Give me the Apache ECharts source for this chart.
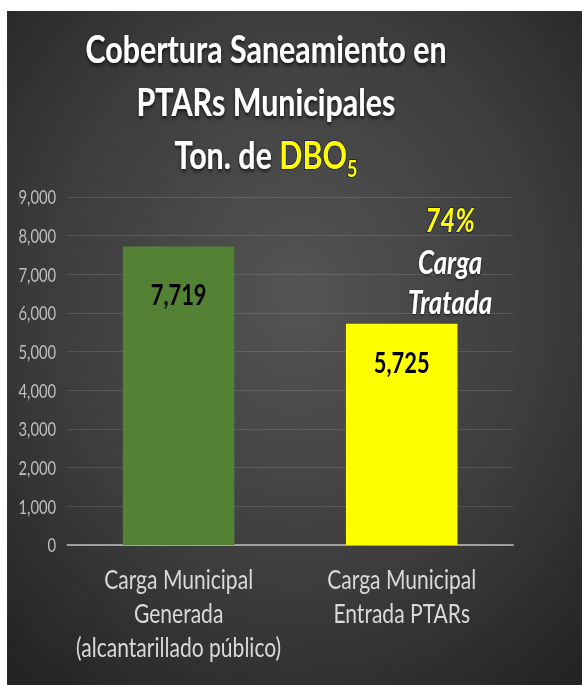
<!DOCTYPE html>
<html>
<head>
<meta charset="utf-8">
<script src="https://cdn.jsdelivr.net/npm/echarts@6/dist/echarts.min.js"></script>
<style>
  html, body { margin: 0; padding: 0; background: #fff; overflow: hidden; }
  /* the source picture is squeezed sideways, so the chart is drawn wider and squeezed back */
  #chart { width: 746px; height: 685px; transform: scaleX(0.78); transform-origin: 0 0; }
</style>
</head>
<body>
<div id="chart"></div>
<script>
const categories = ['Carga Municipal\nGenerada\n(alcantarillado público)', 'Carga Municipal\nEntrada PTARs']
const values = [7719, 5725]
const barColors = ['#548235', '#ffff00']
const yMin = 0
const yMax = 9000
const yStep = 1000
const treatedShare = '74%'
const treatedText = ['Carga', 'Tratada']
const titleLines = ['Cobertura Saneamiento en', 'PTARs Municipales', 'Ton. de ']

const font = 'Lato'
const fmt = v => Number(v).toLocaleString('en-US')

let chart = echarts.init(document.getElementById('chart'), null, { renderer: 'svg' })

let options = {
  backgroundColor: '#ffffff',
  textStyle: { fontFamily: font },
  graphic: [{
    type: 'rect',
    z: -10,
    silent: true,
    shape: { x: 9, y: 11, width: 746, height: 680 },
    style: {
      fill: {
        type: 'radial', x: 0.5, y: 0.42, r: 0.72,
        colorStops: [
          { offset: 0, color: '#545454' },
          { offset: 0.6, color: '#3c3c3c' },
          { offset: 1, color: '#242424' }
        ]
      }
    }
  }],
  title: {
    left: 341,
    top: 21,
    textAlign: 'center',
    padding: 0,
    text: `{w|${titleLines[0]}}\n{w|${titleLines[1]}}\n{w|${titleLines[2]}}{y|DBO}{s|5}`,
    textStyle: {
      rich: {
        w: { fontFamily: font, fontSize: 39, fontWeight: 'bold', color: '#ffffff', lineHeight: 53,
             textShadowColor: 'rgba(0,0,0,0.8)', textShadowBlur: 4, textShadowOffsetY: 2 },
        y: { fontFamily: font, fontSize: 39, fontWeight: 'bold', color: '#ffff00', lineHeight: 53,
             textBorderColor: '#24244a', textBorderWidth: 2 },
        s: { fontFamily: font, fontSize: 23, fontWeight: 'bold', color: '#ffff00', lineHeight: 22,
             verticalAlign: 'bottom', textBorderColor: '#24244a', textBorderWidth: 2 }
      }
    }
  },
  grid: { left: 86, right: 88, top: 197, bottom: 140 },
  xAxis: {
    type: 'category',
    data: categories,
    axisLine: { lineStyle: { color: '#bfbfbf', width: 1.5 } },
    axisTick: { show: false },
    axisLabel: {
      interval: 0,
      margin: 16,
      color: '#d9d9d9',
      fontFamily: font,
      fontSize: 27,
      lineHeight: 34
    }
  },
  yAxis: {
    type: 'value',
    min: yMin,
    max: yMax,
    interval: yStep,
    axisLine: { show: false },
    axisTick: { show: false },
    splitLine: { lineStyle: { color: 'rgba(255,255,255,0.14)', width: 1 } },
    axisLabel: {
      margin: 14,
      color: '#bfbfbf',
      fontFamily: font,
      fontSize: 19,
      formatter: fmt
    }
  },
  series: [{
    type: 'bar',
    barCategoryGap: '50%',
    data: values.map((v, i) => ({
      value: v,
      itemStyle: { color: barColors[i] },
      label: { distance: i === 0 ? 33 : 24 }
    })),
    label: {
      show: true,
      position: 'insideTop',
      color: '#000000',
      fontFamily: font,
      fontWeight: 'bold',
      fontSize: 28,
      formatter: p => fmt(p.value)
    },
    markPoint: {
      silent: true,
      symbol: 'circle',
      symbolSize: 0,
      data: [{ coord: [1, values[1]] }],
      label: {
        show: true,
        position: 'top',
        distance: 2,
        offset: [62, 0],
        formatter: () => `{p|${treatedShare}}\n{t|${treatedText[0]}}\n{t|${treatedText[1]}}`,
        rich: {
          p: { fontFamily: font, fontSize: 33, fontWeight: 'bold', fontStyle: 'italic', color: '#ffff00',
               lineHeight: 44, textBorderColor: '#24244a', textBorderWidth: 2 },
          t: { fontFamily: font, fontSize: 33, fontWeight: 'bold', fontStyle: 'italic', color: '#ffffff',
               lineHeight: 40, textShadowColor: 'rgba(0,0,0,0.7)', textShadowBlur: 3, textShadowOffsetY: 1 }
        }
      }
    }
  }]
}

chart.setOption(options)
</script>
</body>
</html>
